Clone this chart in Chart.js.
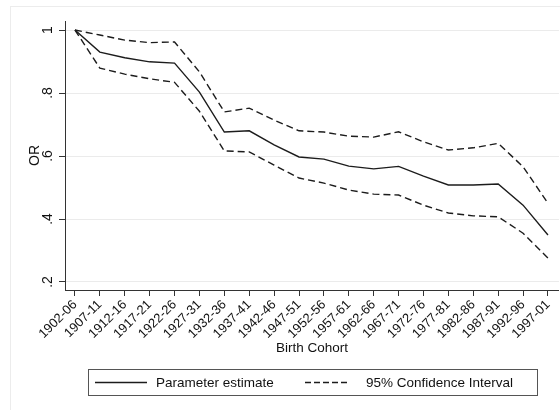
<!DOCTYPE html>
<html>
<head>
<meta charset="utf-8">
<script src="https://cdn.jsdelivr.net/npm/chart.js@4.4.1/dist/chart.umd.min.js"></script>
<style>
  html, body { margin: 0; padding: 0; background: #fff; }
  #wrap { width: 560px; height: 410px; }
</style>
</head>
<body>
<div id="wrap"><canvas id="chart" width="560" height="410"></canvas></div>
<script>
// Birth cohorts on the x axis
const cohorts = [
    '1902-06', '1907-11', '1912-16', '1917-21', '1922-26', '1927-31',
    '1932-36', '1937-41', '1942-46', '1947-51', '1952-56', '1957-61',
    '1962-66', '1967-71', '1972-76', '1977-81', '1982-86', '1987-91',
    '1992-96', '1997-01'
];

// Odds ratios
const estimate = [1, 0.93, 0.912, 0.899, 0.895, 0.803, 0.676, 0.68, 0.635, 0.597,
    0.59, 0.568, 0.559, 0.567, 0.536, 0.508, 0.508, 0.511, 0.444, 0.349];
const upperCI = [1, 0.984, 0.968, 0.96, 0.962, 0.867, 0.74, 0.752, 0.714, 0.68,
    0.676, 0.663, 0.66, 0.677, 0.645, 0.619, 0.626, 0.64, 0.566, 0.45];
const lowerCI = [1, 0.879, 0.86, 0.845, 0.834, 0.742, 0.616, 0.613, 0.571, 0.53,
    0.514, 0.492, 0.479, 0.476, 0.444, 0.419, 0.41, 0.407, 0.355, 0.276];

const yTicks = [0.2, 0.4, 0.6, 0.8, 1];

const FONT = 'Liberation Sans, Arial, Helvetica, sans-serif';
const INK = '#1c1c1c';
const DASH = [7, 4];

const toPoints = arr => arr.map((v, i) => ({ x: i, y: v }));

// Faint outer frame of the graph region
const framePlugin = {
    id: 'frame',
    beforeDraw(chart) {
        const ctx = chart.ctx;
        ctx.save();
        ctx.strokeStyle = '#ececec';
        ctx.lineWidth = 1;
        ctx.strokeRect(10.5, 6.5, 700, 600);
        ctx.restore();
    }
};

// Boxed legend under the axis title
const legendPlugin = {
    id: 'boxLegend',
    afterDraw(chart) {
        const ctx = chart.ctx;
        ctx.save();
        ctx.strokeStyle = '#555';
        ctx.lineWidth = 1;
        ctx.strokeRect(88.5, 369.5, 449, 26);

        const y = 382.5;
        ctx.strokeStyle = INK;
        ctx.lineWidth = 1.4;
        ctx.setLineDash([]);
        ctx.beginPath();
        ctx.moveTo(95, y);
        ctx.lineTo(147, y);
        ctx.stroke();

        ctx.setLineDash([6, 3]);
        ctx.beginPath();
        ctx.moveTo(305, y);
        ctx.lineTo(348, y);
        ctx.stroke();
        ctx.setLineDash([]);

        ctx.fillStyle = '#111';
        ctx.font = '13.5px ' + FONT;
        ctx.textBaseline = 'middle';
        ctx.textAlign = 'left';
        ctx.fillText(chart.data.datasets[0].label, 156, y + 1);
        ctx.fillText(chart.data.datasets[1].label, 366, y + 1);
        ctx.restore();
    }
};

const lineStyle = {
    borderColor: INK,
    borderWidth: 1.4,
    pointRadius: 0,
    tension: 0,
    fill: false
};

new Chart(document.getElementById('chart'), {
    type: 'line',
    data: {
        datasets: [
            Object.assign({ label: 'Parameter estimate', data: toPoints(estimate) }, lineStyle),
            Object.assign({ label: '95% Confidence Interval', data: toPoints(upperCI), borderDash: DASH }, lineStyle),
            Object.assign({ label: '95% CI lower', data: toPoints(lowerCI), borderDash: DASH }, lineStyle)
        ]
    },
    options: {
        responsive: false,
        animation: false,
        layout: {
            padding: { left: 27, top: 21, right: 0, bottom: 54 }
        },
        scales: {
            x: {
                type: 'linear',
                min: -0.4,
                max: 19.44,
                afterBuildTicks: scale => {
                    scale.ticks = cohorts.map((c, i) => ({ value: i }));
                },
                afterFit: scale => { scale.height = 66; },
                ticks: {
                    autoSkip: false,
                    minRotation: 45,
                    maxRotation: 45,
                    padding: 1,
                    color: '#111',
                    font: { family: FONT, size: 13 },
                    callback: value => cohorts[value]
                },
                grid: {
                    drawOnChartArea: false,
                    drawTicks: true,
                    tickLength: 6,
                    tickColor: '#333'
                },
                border: { color: '#333', width: 1 },
                title: {
                    display: true,
                    text: 'Birth Cohort',
                    color: '#111',
                    font: { family: FONT, size: 13.5 },
                    padding: { top: 0, bottom: 0 }
                }
            },
            y: {
                min: 0.1746,
                max: 1.0286,
                afterBuildTicks: scale => {
                    scale.ticks = yTicks.map(v => ({ value: v }));
                },
                afterFit: scale => { scale.width = 38; },
                ticks: {
                    minRotation: 90,
                    maxRotation: 90,
                    crossAlign: 'center',
                    padding: 5,
                    color: '#111',
                    font: { family: FONT, size: 14 },
                    callback: value => (value === 1 ? '1' : String(value).replace(/^0/, ''))
                },
                grid: {
                    color: '#ebebeb',
                    lineWidth: 1,
                    tickLength: 6,
                    tickColor: '#333'
                },
                border: { color: '#333', width: 1 },
                title: {
                    display: true,
                    text: 'OR',
                    color: '#111',
                    font: { family: FONT, size: 14 },
                    padding: { top: 0, bottom: 0 }
                }
            }
        },
        plugins: {
            legend: { display: false },
            tooltip: { enabled: false }
        }
    },
    plugins: [framePlugin, legendPlugin]
});
</script>
</body>
</html>
